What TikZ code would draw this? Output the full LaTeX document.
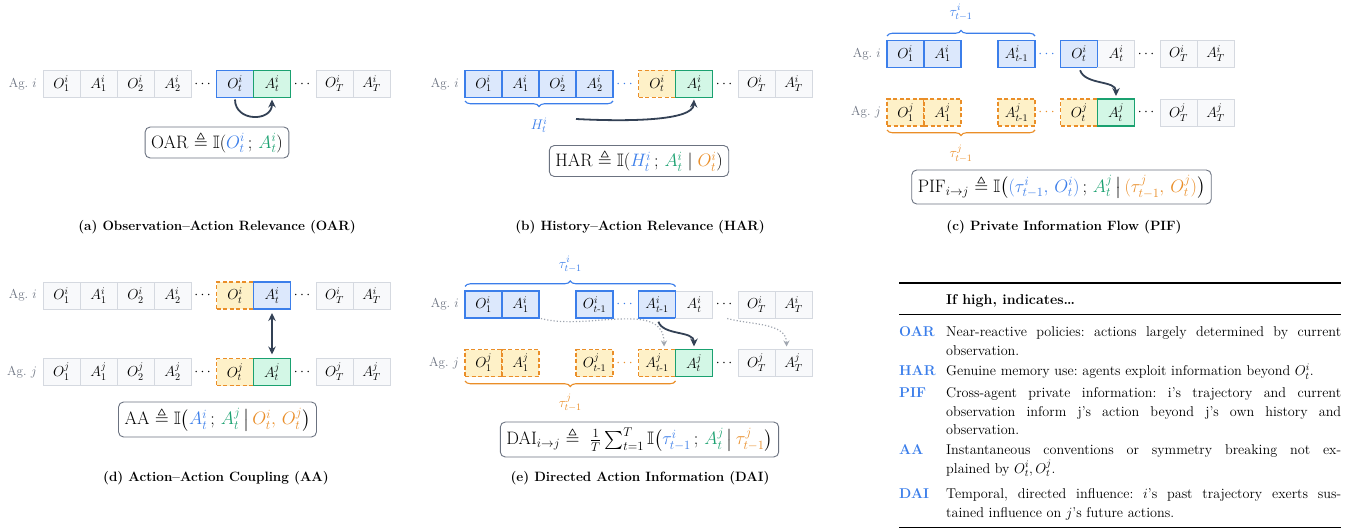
\RequirePackage{fix-cm}
\documentclass[tikz,border=0pt]{standalone}
\usepackage{amsmath,amssymb}
\usepackage{tikz}
\usetikzlibrary{arrows.meta,decorations.pathreplacing,positioning}
\definecolor{InfoBlue}{HTML}{3B7EEA}
\definecolor{InfoFill}{HTML}{DCE8FC}
\definecolor{TargetGreen}{HTML}{1AA170}
\definecolor{TargetFill}{HTML}{D3F7E6}
\definecolor{CondOrange}{HTML}{EA8E28}
\definecolor{CondFill}{HTML}{FEF1C8}
\definecolor{CellGray}{HTML}{D5D9E0}
\definecolor{CellFill}{HTML}{F8F9FB}
\definecolor{AgentGray}{HTML}{6B7280}
\definecolor{ArrowSlate}{HTML}{334155}
\definecolor{HintGray}{HTML}{A0A6B0}
\definecolor{FrameGray}{HTML}{6B7280}
\frenchspacing

\begin{document}
\begin{tikzpicture}[x=1pt,y=1pt,
    cell/.style={draw=CellGray,fill=CellFill,line width=0.8pt,minimum width=37pt,
      minimum height=27pt,inner sep=0pt,outer sep=0pt,font=\fontsize{14.5}{16}\selectfont},
    obs/.style={cell,draw=InfoBlue,fill=InfoFill,line width=1.2pt},
    act/.style={cell,draw=TargetGreen,fill=TargetFill,line width=1.2pt},
    cond/.style={cell,draw=CondOrange,fill=CondFill,line width=1.2pt,dash pattern=on 4pt off 2.5pt},
    emptycell/.style={minimum width=37pt,minimum height=27pt,inner sep=0pt,outer sep=0pt},
    gapdots/.style={emptycell,minimum width=25.5pt,font=\fontsize{14}{16}\selectfont},
    bluedots/.style={gapdots,text=InfoBlue},
    orangedots/.style={gapdots,text=CondOrange},
    agent/.style={text=AgentGray,inner sep=0pt,font=\fontsize{13}{15}\selectfont},
    braceabove/.style={decorate,decoration={brace,amplitude=5.5pt},line width=1.1pt},
    bracebelow/.style={decorate,decoration={brace,mirror,amplitude=5.5pt},line width=1.1pt},
    bracelabel/.style={inner sep=1pt,font=\fontsize{14}{16}\selectfont},
    flow/.style={-{Stealth[length=8pt,width=7.5pt]},line width=1.8pt,draw=ArrowSlate},
    hint/.style={-{Stealth[length=6pt,width=6pt]},dotted,line width=1.2pt,draw=HintGray,
      shorten <=2pt,shorten >=3pt},
    formula/.style={draw=FrameGray,fill=white,line width=0.9pt,rounded corners=5pt,
      inner xsep=6pt,minimum height=31pt,font=\fontsize{18}{21}\selectfont},
    caption/.style={font=\fontsize{13.5}{15}\selectfont\bfseries},
    thead/.style={anchor=base west,inner sep=0pt,font=\fontsize{14.2}{18.5}\selectfont\bfseries},
    tlab/.style={anchor=base west,inner sep=0pt,text=InfoBlue,font=\fontsize{14.2}{18.5}\selectfont\bfseries},
    tdesc/.style={anchor=base west,inner sep=0pt,text width=395pt,align=justify,
      font=\fontsize{14.2}{18.5}\selectfont}]
  \useasboundingbox (0,0) rectangle (1364,-529);

  % (a) observation-action relevance
  \coordinate (a0) at (43,-84);
  \foreach \nm/\lab/\sty [remember=\nm as \prev (initially a0)] in
    {aO1/{$O^i_1$}/cell,aA1/{$A^i_1$}/cell,aO2/{$O^i_2$}/cell,aA2/{$A^i_2$}/cell,
     aD1/{$\cdots$}/gapdots,aOt/{$O^i_t$}/obs,aAt/{$A^i_t$}/act,aD2/{$\cdots$}/gapdots,
     aOT/{$O^i_T$}/cell,aAT/{$A^i_T$}/cell}
    \node[\sty,right=0pt of \prev] (\nm) {\lab};
  \node[agent,left=6pt of aO1] (aAgi) {Ag.~$i$};
  \draw[flow,shorten <=2pt,shorten >=2pt] (aOt.south) to[out=-90,in=-90,looseness=1.7] (aAt.south);
  \node[formula] (aOAR) at (217,-142.5)
    {OAR $\triangleq \mathbb{I}(\textcolor{InfoBlue}{O^i_t}\,;\,\textcolor{TargetGreen}{A^i_t})$};
  \node[caption] (capA) at (217,-227) {(a) Observation\textendash Action Relevance (OAR)};

  % (b) history-action relevance
  \coordinate (b0) at (465,-84);
  \foreach \nm/\lab/\sty [remember=\nm as \prev (initially b0)] in
    {bO1/{$O^i_1$}/obs,bA1/{$A^i_1$}/obs,bO2/{$O^i_2$}/obs,bA2/{$A^i_2$}/obs,
     bD1/{$\cdots$}/bluedots,bOt/{$O^i_t$}/cond,bAt/{$A^i_t$}/act,bD2/{$\cdots$}/gapdots,
     bOT/{$O^i_T$}/cell,bAT/{$A^i_T$}/cell}
    \node[\sty,right=0pt of \prev] (\nm) {\lab};
  \node[agent,left=6pt of bO1] (bAgi) {Ag.~$i$};
  \draw[bracebelow,InfoBlue] ([yshift=-3.5pt]bO1.south west) -- ([yshift=-3.5pt]bA2.south east)
    node[midway,below=15pt,bracelabel] (bHist) {$H^i_t$};
  \coordinate (bFrom) at (576,-119);
  \draw[flow,shorten >=2pt] (bFrom) to[out=-3,in=-92,out looseness=1.1,in looseness=0.5] (bAt.south);
  \node[formula] (bHAR) at (639,-161)
    {HAR $\triangleq \mathbb{I}(\textcolor{InfoBlue}{H^i_t}\,;\,\textcolor{TargetGreen}{A^i_t}
      \mid \textcolor{CondOrange}{O^i_t})$};
  \node[caption] (capB) at (640,-227) {(b) History\textendash Action Relevance (HAR)};

  % (c) private information flow
  \coordinate (ci0) at (887,-54);
  \foreach \nm/\lab/\sty [remember=\nm as \prev (initially ci0)] in
    {cO1i/{$O^i_1$}/obs,cA1i/{$A^i_1$}/obs,cE1i/{}/emptycell,cAt1i/{$A^i_{t\text{-}1}$}/obs,
     cD1i/{$\cdots$}/bluedots,cOti/{$O^i_t$}/obs,cAti/{$A^i_t$}/cell,cD2i/{$\cdots$}/gapdots,
     cOTi/{$O^i_T$}/cell,cATi/{$A^i_T$}/cell}
    \node[\sty,right=0pt of \prev] (\nm) {\lab};
  \draw[InfoBlue,line width=1.2pt] (cOti.north east) -- (cOti.south east);
  \coordinate (cj0) at (887,-112.5);
  \foreach \nm/\lab/\sty [remember=\nm as \prev (initially cj0)] in
    {cO1j/{$O^j_1$}/cond,cA1j/{$A^j_1$}/cond,cE1j/{}/emptycell,cAt1j/{$A^j_{t\text{-}1}$}/cond,
     cD1j/{$\cdots$}/orangedots,cOtj/{$O^j_t$}/cond,cAtj/{$A^j_t$}/act,cD2j/{$\cdots$}/gapdots,
     cOTj/{$O^j_T$}/cell,cATj/{$A^j_T$}/cell}
    \node[\sty,right=0pt of \prev] (\nm) {\lab};
  \node[agent,left=6pt of cO1i] (cAgi) {Ag.~$i$};
  \node[agent,left=6pt of cO1j] (cAgj) {Ag.~$j$};
  \draw[braceabove,InfoBlue] ([yshift=4.5pt]cO1i.north west) -- ([yshift=4.5pt]cAt1i.north east)
    node[midway,above=14pt,bracelabel] (cTaui) {$\tau^i_{t-1}$};
  \draw[bracebelow,CondOrange] ([yshift=-4pt]cO1j.south west) -- ([yshift=-4pt]cAt1j.south east)
    node[midway,below=13pt,bracelabel] (cTauj) {$\tau^j_{t-1}$};
  \draw[flow,shorten <=3pt,shorten >=3pt] (cOti.south) to[out=-70,in=90] (cAtj.north);
  \node[formula,minimum height=34pt] (cPIF) at (1061.5,-187)
    {PIF$_{i\to j}$ $\triangleq \mathbb{I}\big(\textcolor{InfoBlue}{(\tau^i_{t-1},\,O^i_t)}\,;\,
      \textcolor{TargetGreen}{A^j_t}\,\big|\,\textcolor{CondOrange}{(\tau^j_{t-1},\,O^j_t)}\big)$};
  \node[caption] (capC) at (1064,-227) {(c) Private Information Flow (PIF)};

  % (d) action-action coupling
  \coordinate (di0) at (43,-295.5);
  \foreach \nm/\lab/\sty [remember=\nm as \prev (initially di0)] in
    {dO1i/{$O^i_1$}/cell,dA1i/{$A^i_1$}/cell,dO2i/{$O^i_2$}/cell,dA2i/{$A^i_2$}/cell,
     dD1i/{$\cdots$}/gapdots,dOti/{$O^i_t$}/cond,dAti/{$A^i_t$}/obs,dD2i/{$\cdots$}/gapdots,
     dOTi/{$O^i_T$}/cell,dATi/{$A^i_T$}/cell}
    \node[\sty,right=0pt of \prev] (\nm) {\lab};
  \coordinate (dj0) at (43,-372);
  \foreach \nm/\lab/\sty [remember=\nm as \prev (initially dj0)] in
    {dO1j/{$O^j_1$}/cell,dA1j/{$A^j_1$}/cell,dO2j/{$O^j_2$}/cell,dA2j/{$A^j_2$}/cell,
     dD1j/{$\cdots$}/gapdots,dOtj/{$O^j_t$}/cond,dAtj/{$A^j_t$}/act,dD2j/{$\cdots$}/gapdots,
     dOTj/{$O^j_T$}/cell,dATj/{$A^j_T$}/cell}
    \node[\sty,right=0pt of \prev] (\nm) {\lab};
  \node[agent,left=6pt of dO1i] (dAgi) {Ag.~$i$};
  \node[agent,left=6pt of dO1j] (dAgj) {Ag.~$j$};
  \draw[{Stealth[length=8pt,width=7.5pt]}-{Stealth[length=8pt,width=7.5pt]},line width=1.8pt,
    draw=ArrowSlate,shorten <=4pt,shorten >=4pt] (dAti.south) -- (dAtj.north);
  \node[formula,minimum height=35pt] (dAA) at (217.5,-419.5)
    {AA $\triangleq \mathbb{I}\big(\textcolor{InfoBlue}{A^i_t}\,;\,\textcolor{TargetGreen}{A^j_t}\,\big|\,
      \textcolor{CondOrange}{O^i_t,\,O^j_t}\big)$};
  \node[caption] (capD) at (216,-478) {(d) Action\textendash Action Coupling (AA)};

  % (e) directed action information
  \coordinate (ei0) at (465,-304.5);
  \foreach \nm/\lab/\sty [remember=\nm as \prev (initially ei0)] in
    {eO1i/{$O^i_1$}/obs,eA1i/{$A^i_1$}/obs,eE1i/{}/emptycell,eOt1i/{$O^i_{t\text{-}1}$}/obs,
     eD1i/{$\cdots$}/bluedots,eAt1i/{$A^i_{t\text{-}1}$}/obs,eAti/{$A^i_t$}/cell,eD2i/{$\cdots$}/gapdots,
     eOTi/{$O^i_T$}/cell,eATi/{$A^i_T$}/cell}
    \node[\sty,right=0pt of \prev] (\nm) {\lab};
  \draw[InfoBlue,line width=1.2pt] (eAt1i.north east) -- (eAt1i.south east);
  \coordinate (ej0) at (465,-363);
  \foreach \nm/\lab/\sty [remember=\nm as \prev (initially ej0)] in
    {eO1j/{$O^j_1$}/cond,eA1j/{$A^j_1$}/cond,eE1j/{}/emptycell,eOt1j/{$O^j_{t\text{-}1}$}/cond,
     eD1j/{$\cdots$}/orangedots,eAt1j/{$A^j_{t\text{-}1}$}/cond,eAtj/{$A^j_t$}/act,eD2j/{$\cdots$}/gapdots,
     eOTj/{$O^j_T$}/cell,eATj/{$A^j_T$}/cell}
    \node[\sty,right=0pt of \prev] (\nm) {\lab};
  \node[agent,left=6pt of eO1i] (eAgi) {Ag.~$i$};
  \node[agent,left=6pt of eO1j] (eAgj) {Ag.~$j$};
  \draw[braceabove,InfoBlue] ([yshift=4.5pt]eO1i.north west) -- ([yshift=4.5pt]eAt1i.north east)
    node[midway,above=12.5pt,bracelabel] (eTaui) {$\tau^i_{t-1}$};
  \draw[bracebelow,CondOrange] ([yshift=-4.5pt]eO1j.south west) -- ([yshift=-4.5pt]eAt1j.south east)
    node[midway,below=11.5pt,bracelabel] (eTauj) {$\tau^j_{t-1}$};
  \draw[hint] (eA1i.south east) to[out=-15,in=90] ([xshift=7pt]eAt1j.north);
  \draw[hint] (eD2i.south) to[out=-15,in=90] ([xshift=-7pt]eATj.north);
  \draw[flow,shorten <=4pt,shorten >=3pt] (eAt1i.south) to[out=-70,in=90] (eAtj.north);
  \node[formula,minimum height=35pt] (eDAI) at (639.5,-439.5)
    {DAI$_{i\to j}$ $\triangleq\ \tfrac{1}{T}\sum_{t=1}^{T}\mathbb{I}\big(\textcolor{InfoBlue}{\tau^i_{t-1}}\,;\,
      \textcolor{TargetGreen}{A^j_t}\,\big|\,\textcolor{CondOrange}{\tau^j_{t-1}}\big)$};
  \node[caption] (capE) at (640,-478) {(e) Directed Action Information (DAI)};

  % summary table
  \draw[line width=1.3pt] (899,-283) -- (1341,-283);
  \draw[line width=0.8pt] (899,-314) -- (1341,-314);
  \draw[line width=1.3pt] (899,-527.5) -- (1341,-527.5);
  \node[thead] (tHead) at (946,-304.5) {If high, indicates\dots};
  \node[tlab] (tOAR) at (899,-336.5) {OAR};
  \node[tdesc] (dOAR) at (946,-336.5) {Near-reactive policies: actions largely determined by current\linebreak
    observation.};
  \node[tlab] (tHAR) at (899,-375.5) {HAR};
  \node[tdesc] (dHAR) at (946,-375.5) {Genuine memory use: agents exploit information beyond $O^i_t$.};
  \node[tlab] (tPIF) at (899,-397.5) {PIF};
  \node[tdesc] (dPIF) at (946,-397.5) {Cross-agent private information: i's trajectory and current\linebreak
    observation inform j's action beyond j's own history and\linebreak observation.};
  \node[tlab] (tAA) at (899,-454.5) {AA};
  \node[tdesc] (dAA) at (946,-454.5) {Instantaneous conventions or symmetry breaking not ex-\linebreak
    plained by $O^i_t, O^j_t$.};
  \node[tlab] (tDAI) at (899,-498.5) {DAI};
  \node[tdesc] (dDAI) at (946,-498.5) {Temporal, directed influence: $i$'s past trajectory exerts sus-\linebreak
    tained influence on $j$'s future actions.};
\end{tikzpicture}
\end{document}
